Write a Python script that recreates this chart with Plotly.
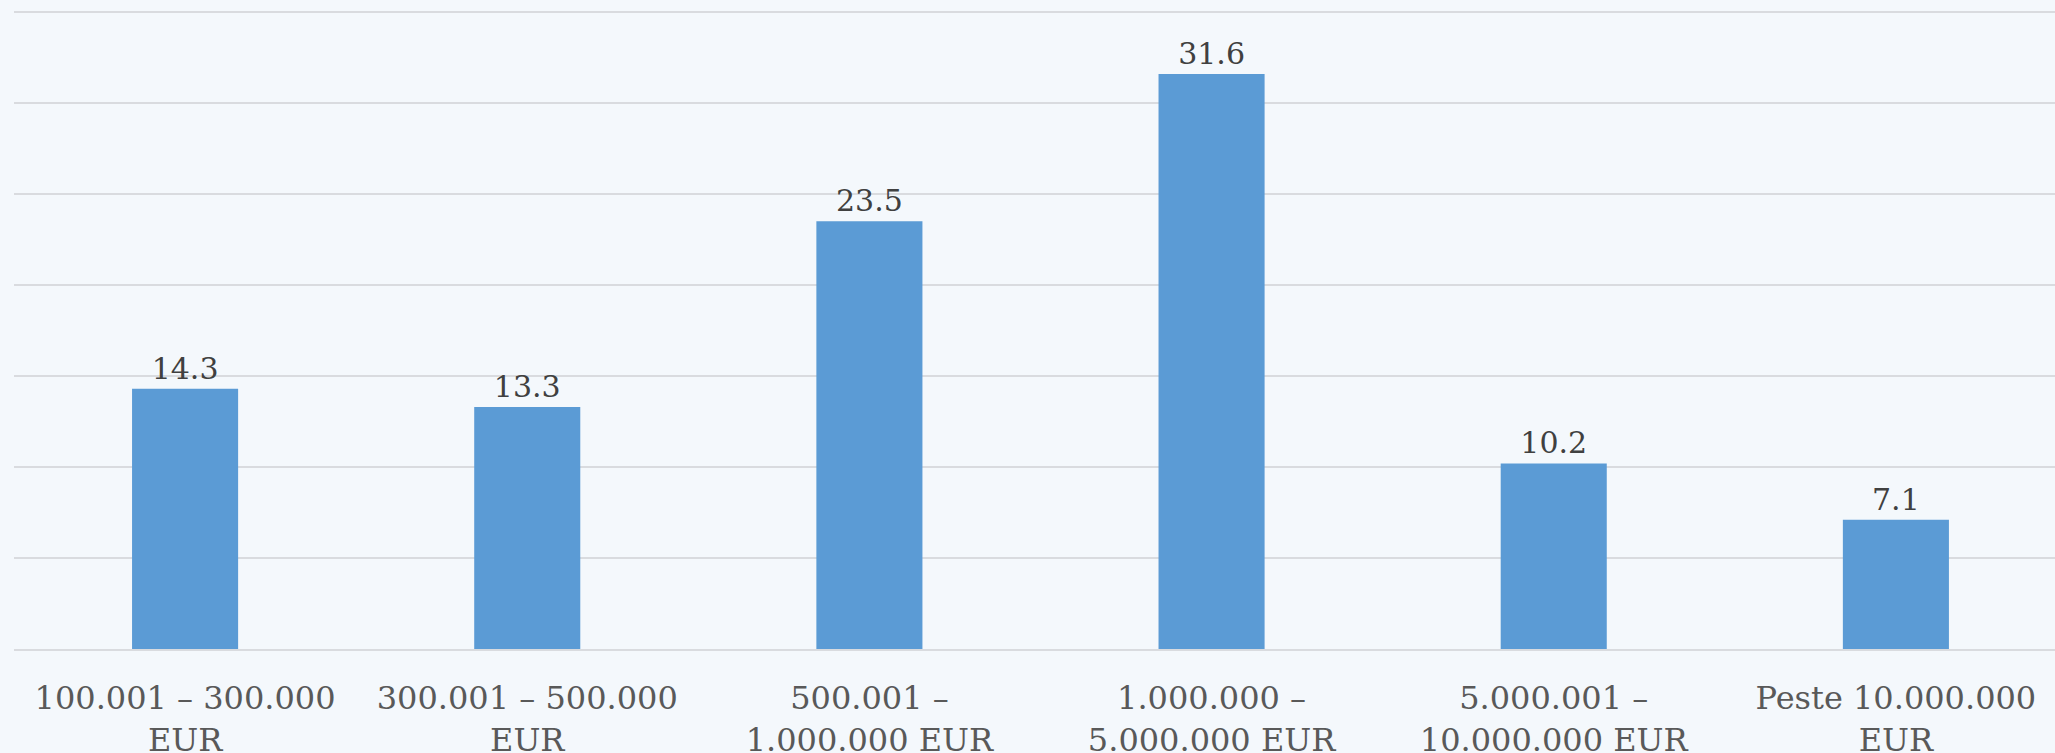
import plotly.graph_objects as go

categories = [
    "100.001 – 300.000<br>EUR",
    "300.001 – 500.000<br>EUR",
    "500.001 –<br>1.000.000 EUR",
    "1.000.000 –<br>5.000.000 EUR",
    "5.000.001 –<br>10.000.000 EUR",
    "Peste 10.000.000<br>EUR",
]
values = [14.3, 13.3, 23.5, 31.6, 10.2, 7.1]
labels = ["14.3", "13.3", "23.5", "31.6", "10.2", "7.1"]

BG = "#F4F8FC"
GRID = "#D9DBDF"
FONT = "DejaVu Serif, Liberation Serif, serif"

fig = go.Figure(
    go.Bar(
        x=list(range(len(categories))),
        y=values,
        text=labels,
        textposition="outside",
        textfont=dict(family=FONT, size=30, color="#404040"),
        marker=dict(color="#5B9BD5", line=dict(width=0)),
        width=0.31,
        cliponaxis=False,
        hoverinfo="skip",
    )
)

fig.update_layout(
    width=2055,
    height=753,
    margin=dict(l=14, r=0, t=11, b=104),
    paper_bgcolor=BG,
    plot_bgcolor=BG,
    showlegend=False,
    font=dict(family=FONT, size=32, color="#595959"),
    xaxis=dict(
        tickmode="array",
        tickvals=list(range(len(categories))),
        ticktext=categories,
        range=[-0.5, 5.465],
        showgrid=False,
        showline=True,
        linecolor=GRID,
        linewidth=2,
        ticks="",
        ticklabelstandoff=20,
        automargin=False,
        tickfont=dict(family=FONT, size=32, color="#595959"),
        zeroline=False,
        fixedrange=True,
    ),
    yaxis=dict(
        range=[0, 35.06],
        tickmode="array",
        tickvals=[5, 10, 15, 20, 25, 30, 35],
        showgrid=True,
        gridcolor=GRID,
        gridwidth=2,
        showticklabels=False,
        zeroline=False,
        ticks="",
        automargin=False,
        fixedrange=True,
    ),
)

fig.write_html(
    "out.html",
    config={"displayModeBar": False},
    post_script="document.body.style.margin='0';document.body.style.background='#F4F8FC';",
)
